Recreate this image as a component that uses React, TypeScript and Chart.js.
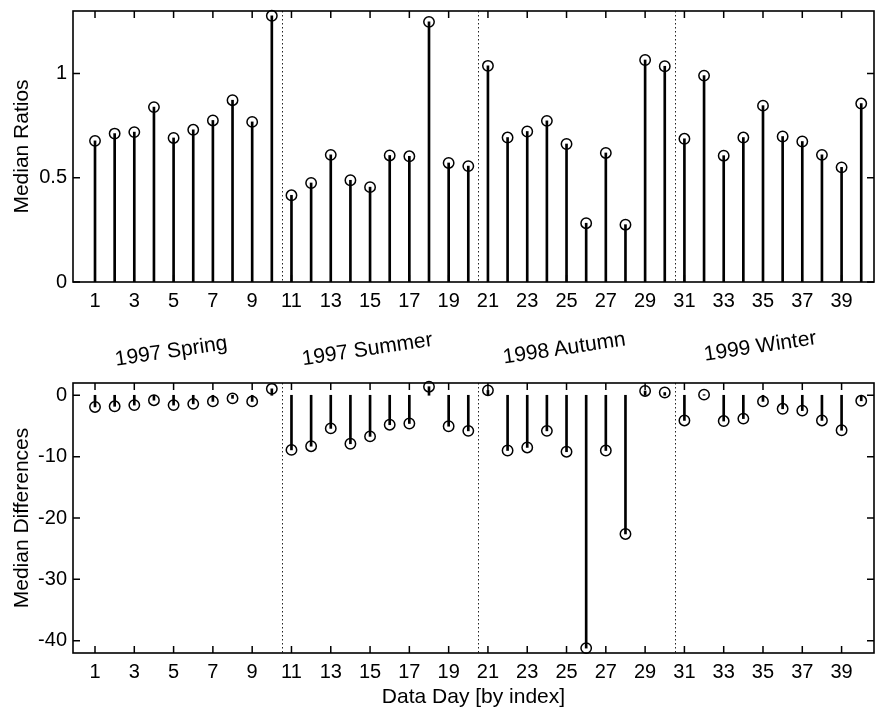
import React, { useEffect, useRef } from "react";
import { Chart, registerables } from "chart.js";

Chart.register(...registerables);

// ---------- data ----------
const dayIndex = [
  1, 2, 3, 4, 5, 6, 7, 8, 9, 10,
  11, 12, 13, 14, 15, 16, 17, 18, 19, 20,
  21, 22, 23, 24, 25, 26, 27, 28, 29, 30,
  31, 32, 33, 34, 35, 36, 37, 38, 39, 40,
];

const medianRatios = [
  0.677, 0.712, 0.719, 0.839, 0.691, 0.73, 0.775, 0.872, 0.768, 1.277,
  0.416, 0.475, 0.61, 0.488, 0.455, 0.607, 0.603, 1.248, 0.571, 0.556,
  1.037, 0.693, 0.722, 0.773, 0.662, 0.282, 0.619, 0.275, 1.065, 1.035,
  0.687, 0.99, 0.606, 0.693, 0.846, 0.698, 0.674, 0.61, 0.55, 0.856,
];

const medianDifferences = [
  -1.9, -1.8, -1.6, -0.8, -1.6, -1.4, -1.0, -0.5, -1.0, 1.05,
  -8.9, -8.3, -5.4, -7.9, -6.7, -4.8, -4.6, 1.4, -5.05, -5.8,
  0.8, -9.0, -8.5, -5.8, -9.2, -41.2, -9.0, -22.6, 0.7, 0.45,
  -4.1, 0.1, -4.2, -3.8, -1.0, -2.2, -2.5, -4.1, -5.7, -0.9,
];

const xTickValues = [1, 3, 5, 7, 9, 11, 13, 15, 17, 19, 21, 23, 25, 27, 29, 31, 33, 35, 37, 39];
const ratioTicks = [0, 0.5, 1];
const differenceTicks = [-40, -30, -20, -10, 0];
const seasonBoundaries = [10.5, 20.5, 30.5];
const seasonLabels = ["1997 Spring", "1997 Summer", "1998 Autumn", "1999 Winter"];

const xAxisTitle = "Data Day [by index]";
const ratioTitle = "Median Ratios";
const differenceTitle = "Median Differences";

// ---------- layout / style ----------
const FONT = "'Liberation Sans', Arial, Helvetica, sans-serif";
const seasonLabelPos = [
  { left: 171, top: 350 },
  { left: 367, top: 348 },
  { left: 564, top: 347 },
  { left: 760, top: 345 },
];

const framePlugin = {
  id: "matlabFrame",
  beforeDatasetsDraw(chart: any) {
    const { ctx, chartArea: a, scales } = chart;
    ctx.save();
    ctx.strokeStyle = "#222";
    ctx.lineWidth = 1;
    ctx.setLineDash([1.5, 2.5]);
    for (const b of seasonBoundaries) {
      const px = Math.round(scales.x.getPixelForValue(b)) + 0.5;
      ctx.beginPath();
      ctx.moveTo(px, a.top);
      ctx.lineTo(px, a.bottom);
      ctx.stroke();
    }
    ctx.restore();
  },
  afterDatasetsDraw(chart: any) {
    const { ctx, chartArea: a, scales } = chart;
    ctx.save();
    ctx.strokeStyle = "#000";
    ctx.lineWidth = 1.6;
    ctx.setLineDash([]);
    ctx.strokeRect(a.left, a.top, a.right - a.left, a.bottom - a.top);
    const tl = 7;
    ctx.lineWidth = 1.5;
    ctx.beginPath();
    for (const t of scales.x.ticks) {
      const px = scales.x.getPixelForValue(t.value);
      ctx.moveTo(px, a.bottom);
      ctx.lineTo(px, a.bottom - tl);
      ctx.moveTo(px, a.top);
      ctx.lineTo(px, a.top + tl);
    }
    for (const t of scales.y.ticks) {
      const py = scales.y.getPixelForValue(t.value);
      ctx.moveTo(a.left, py);
      ctx.lineTo(a.left + tl, py);
      ctx.moveTo(a.right, py);
      ctx.lineTo(a.right - tl, py);
    }
    ctx.stroke();
    ctx.restore();
  },
};

function makeConfig(
  values: number[],
  yMin: number,
  yMax: number,
  yTicks: number[],
  yTitle: string,
  xTitle: string | null,
  padTop: number,
  xAxisHeight: number
): any {
  const pts = dayIndex.map((x, i) => ({ x, y: values[i] }));
  return {
    type: "scatter",
    data: {
      datasets: [
        {
          type: "scatter",
          data: pts,
          showLine: false,
          pointRadius: 5.2,
          pointHoverRadius: 5.2,
          pointBorderWidth: 1.5,
          borderColor: "#000",
          backgroundColor: "rgba(0,0,0,0)",
          pointBackgroundColor: "rgba(0,0,0,0)",
          clip: false,
          order: 0,
        },
        {
          type: "bar",
          data: pts,
          backgroundColor: "#000",
          borderWidth: 0,
          barThickness: 2,
          order: 1,
        },
      ],
    },
    options: {
      responsive: false,
      animation: false,
      devicePixelRatio: 1,
      layout: { autoPadding: false, padding: { top: padTop, right: 1, left: 0, bottom: 0 } },
      plugins: { legend: { display: false }, tooltip: { enabled: false } },
      events: [],
      scales: {
        x: {
          type: "linear",
          min: -0.12,
          max: 40.65,
          offset: false,
          grid: { display: false, drawTicks: false, offset: false },
          border: { display: false },
          afterBuildTicks: (s: any) => {
            s.ticks = xTickValues.map((v) => ({ value: v }));
          },
          afterFit: (s: any) => {
            s.height = xAxisHeight;
            s.paddingLeft = 0;
            s.paddingRight = 0;
            s.paddingTop = 0;
            s.paddingBottom = 0;
          },
          ticks: {
            autoSkip: false,
            maxRotation: 0,
            padding: 7,
            color: "#000",
            font: { family: FONT, size: 20 },
            callback: (v: any) => String(v),
          },
          title: {
            display: !!xTitle,
            text: xTitle || "",
            color: "#000",
            font: { family: FONT, size: 21 },
            padding: { top: 0, bottom: 1 },
          },
        },
        y: {
          type: "linear",
          min: yMin,
          max: yMax,
          grid: { display: false, drawTicks: false },
          border: { display: false },
          afterBuildTicks: (s: any) => {
            s.ticks = yTicks.map((v) => ({ value: v }));
          },
          afterFit: (s: any) => {
            s.width = 73;
            s.paddingLeft = 0;
            s.paddingRight = 0;
            s.paddingTop = 0;
            s.paddingBottom = 0;
          },
          ticks: {
            autoSkip: false,
            padding: 6,
            color: "#000",
            font: { family: FONT, size: 20 },
            callback: (v: any) => String(v),
          },
          title: {
            display: true,
            text: yTitle,
            color: "#000",
            font: { family: FONT, size: 21 },
            padding: { top: 10, bottom: 0 },
          },
        },
      },
    },
    plugins: [framePlugin],
  };
}

export default function App() {
  const topRef = useRef<HTMLCanvasElement | null>(null);
  const bottomRef = useRef<HTMLCanvasElement | null>(null);

  useEffect(() => {
    const top = new Chart(
      topRef.current as HTMLCanvasElement,
      makeConfig(medianRatios, 0, 1.3, ratioTicks, ratioTitle, null, 11, 38)
    );
    const bottom = new Chart(
      bottomRef.current as HTMLCanvasElement,
      makeConfig(medianDifferences, -42, 2, differenceTicks, differenceTitle, xAxisTitle, 23, 58)
    );
    return () => {
      top.destroy();
      bottom.destroy();
    };
  }, []);

  return (
    <div
      style={{
        position: "absolute",
        left: 0,
        top: 0,
        width: 875,
        height: 711,
        background: "#fff",
        overflow: "hidden",
      }}
    >
      <canvas
        ref={topRef}
        width={875}
        height={320}
        style={{ position: "absolute", left: 0, top: 0, width: 875, height: 320 }}
      />
      <canvas
        ref={bottomRef}
        width={875}
        height={351}
        style={{ position: "absolute", left: 0, top: 360, width: 875, height: 351 }}
      />
      {seasonLabels.map((label, i) => (
        <div
          key={label}
          style={{
            position: "absolute",
            left: seasonLabelPos[i].left,
            top: seasonLabelPos[i].top,
            transform: "translate(-50%, -50%) rotate(-8.5deg)",
            whiteSpace: "nowrap",
            fontFamily: FONT,
            fontSize: 21,
            lineHeight: 1,
            color: "#000",
          }}
        >
          {label}
        </div>
      ))}
    </div>
  );
}
